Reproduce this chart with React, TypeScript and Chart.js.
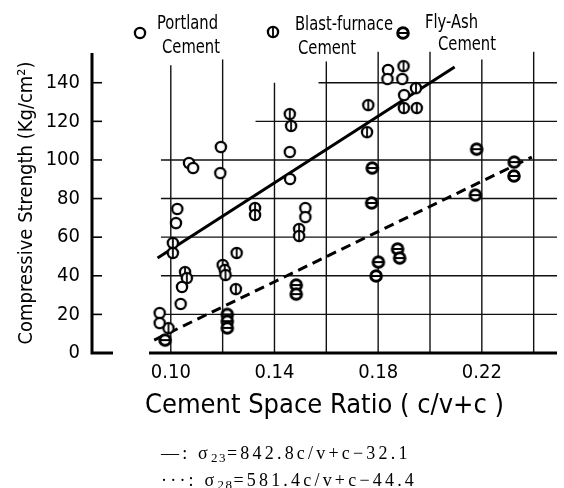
import React, { useEffect, useRef } from 'react';
import { Chart, registerables } from 'chart.js';

Chart.register(...registerables);

// ---------- data ----------
const seriesNames = ['Portland Cement', 'Blast-furnace Cement', 'Fly-Ash Cement'];

const portlandX = [0.1193, 0.1191, 0.1070, 0.1086, 0.1459, 0.1460, 0.1025, 0.1020, 0.1043, 0.1038, 0.0957, 0.0957, 0.1838, 0.1836, 0.1893, 0.1900, 0.1519, 0.1519];
const portlandY = [106.7, 93.2, 98.4, 95.8, 104.1, 90.1, 74.6, 67.3, 34.2, 25.4, 20.7, 15.5, 146.6, 141.9, 141.9, 133.6, 75.1, 70.4];

const blastX = [0.1459, 0.1464, 0.1898, 0.1946, 0.1762, 0.1899, 0.1949, 0.1757, 0.1325, 0.1325, 0.1495, 0.1495, 0.1008, 0.1008, 0.1055, 0.1062, 0.0991, 0.1254, 0.1251, 0.1200, 0.1208, 0.1211];
const blastY = [123.8, 117.6, 148.6, 137.2, 128.4, 126.9, 126.9, 114.4, 75.1, 71.5, 64.2, 60.6, 57.0, 51.8, 41.9, 38.8, 12.9, 51.8, 33.1, 45.6, 43.0, 40.4];

const flyX = [0.1218, 0.1218, 0.1218, 0.1484, 0.1484, 0.1777, 0.1775, 0.1801, 0.1792, 0.1875, 0.1883, 0.2180, 0.2175, 0.2325, 0.2324, 0.0978];
const flyY = [20.0, 16.5, 13.0, 35.2, 30.5, 95.8, 77.7, 47.1, 39.9, 53.9, 49.2, 105.6, 81.8, 98.9, 91.7, 6.7];

// regression lines as drawn (end points)
const solidX = [0.0949, 0.2095];
const solidY = [49.2, 148.1];
const dashX = [0.0936, 0.2393];
const dashY = [6.7, 101.5];

const xTickValues = [0.10, 0.12, 0.14, 0.16, 0.18, 0.20, 0.22, 0.24];
const xTickLabels = ['0.10', '', '0.14', '', '0.18', '', '0.22', ''];
const yTickValues = [0, 20, 40, 60, 80, 100, 120, 140];

const equations = [
  { mark: '\u2014:', sub: '23', rhs: '=842.8c/v+c\u221232.1' },
  { mark: '\u00b7\u00b7\u00b7:', sub: '28', rhs: '=581.4c/v+c\u221244.4' },
];

// ---------- styling ----------
const HAND = '"DejaVu Sans Condensed", "DejaVu Sans", sans-serif';

const gridStyle = {
  vTops: [149, 152, 140, 151, 156, 156, 152, 156],
  hStarts: [0.0962, 0.0962, 0.0962, 0.0962, 0.0962, 0.1327, 0.157],
  xAxisStart: 0.0916,
};

function makeMarker(kind: number): HTMLCanvasElement {
  const c = document.createElement('canvas');
  c.width = 16;
  c.height = 16;
  const g = c.getContext('2d')!;
  g.strokeStyle = '#000';
  g.fillStyle = '#fff';
  const r = kind === 2 ? 5.3 : 5.1;
  g.lineWidth = kind === 2 ? 3 : 2.3;
  g.beginPath();
  g.arc(8, 8, r, 0, Math.PI * 2);
  g.fill();
  g.stroke();
  if (kind === 1) {
    g.lineWidth = 1.8;
    g.beginPath();
    g.moveTo(8, 8 - r);
    g.lineTo(8, 8 + r);
    g.stroke();
  } else if (kind === 2) {
    g.lineWidth = 2;
    g.beginPath();
    g.moveTo(8 - r, 8);
    g.lineTo(8 + r, 8);
    g.stroke();
  }
  return c;
}

const toPts = (xs: number[], ys: number[]) => xs.map((x, i) => ({ x, y: ys[i] }));

export default function App() {
  const ref = useRef<HTMLCanvasElement | null>(null);

  useEffect(() => {
    if (!ref.current) return;
    const markers = [makeMarker(0), makeMarker(1), makeMarker(2)];

    const gridPlugin = {
      id: 'handGrid',
      beforeDatasetsDraw(chart: any) {
        const { ctx, scales } = chart;
        const x = scales.x;
        const y = scales.y;
        const y0 = y.getPixelForValue(0);
        ctx.save();
        ctx.strokeStyle = '#111';
        ctx.lineWidth = 1.4;
        xTickValues.forEach((v, i) => {
          const px = x.getPixelForValue(v);
          ctx.beginPath();
          ctx.moveTo(px, y.getPixelForValue(gridStyle.vTops[i]));
          ctx.lineTo(px, y0);
          ctx.stroke();
        });
        yTickValues.slice(1).forEach((v, i) => {
          const py = y.getPixelForValue(v);
          ctx.beginPath();
          ctx.moveTo(x.getPixelForValue(gridStyle.hStarts[i]), py);
          ctx.lineTo(x.right, py);
          ctx.stroke();
        });
        // inward y ticks
        ctx.strokeStyle = '#000';
        ctx.lineWidth = 1.6;
        yTickValues.slice(1).forEach((v) => {
          const py = y.getPixelForValue(v);
          ctx.beginPath();
          ctx.moveTo(x.left, py);
          ctx.lineTo(x.left + 10, py);
          ctx.stroke();
        });
        // axes
        ctx.lineWidth = 3;
        ctx.beginPath();
        ctx.moveTo(x.left, y.top);
        ctx.lineTo(x.left, y0 + 1.5);
        ctx.moveTo(x.left - 1.5, y0);
        ctx.lineTo(x.left + 21, y0);
        ctx.stroke();
        ctx.beginPath();
        ctx.moveTo(x.getPixelForValue(gridStyle.xAxisStart), y0);
        ctx.lineTo(x.right, y0);
        ctx.stroke();
        ctx.restore();
      },
    };

    const legendPos = [
      { mx: 140, my: 33, lines: [[157, 29], [162, 53]] },
      { mx: 273, my: 32, lines: [[295, 30], [298, 54]] },
      { mx: 403, my: 33, lines: [[425, 28], [438, 50]] },
    ];

    const legendPlugin = {
      id: 'handLegend',
      afterDraw(chart: any) {
        const { ctx } = chart;
        ctx.save();
        ctx.fillStyle = '#000';
        ctx.font = `20px ${HAND}`;
        ctx.textAlign = 'left';
        ctx.textBaseline = 'alphabetic';
        seriesNames.forEach((name, i) => {
          const p = legendPos[i];
          ctx.drawImage(markers[i], p.mx - 8, p.my - 8);
          const parts = name.split(' ');
          parts.forEach((t, k) => {
            ctx.save();
            ctx.translate(p.lines[k][0], p.lines[k][1]);
            ctx.scale(0.82, 1);
            ctx.fillText(t, 0, 0);
            ctx.restore();
          });
        });
        ctx.restore();
      },
    };

    const chart = new Chart(ref.current, {
      type: 'scatter',
      data: {
        datasets: [
          {
            label: seriesNames[0],
            data: toPts(portlandX, portlandY),
            pointStyle: markers[0] as any,
            pointRadius: 6,
          },
          {
            label: seriesNames[1],
            data: toPts(blastX, blastY),
            pointStyle: markers[1] as any,
            pointRadius: 6,
          },
          {
            label: seriesNames[2],
            data: toPts(flyX, flyY),
            pointStyle: markers[2] as any,
            pointRadius: 6,
          },
          {
            label: 'solid',
            data: toPts(solidX, solidY),
            showLine: true,
            borderColor: '#000',
            borderWidth: 3,
            pointRadius: 0,
            order: 5,
          } as any,
          {
            label: 'dashed',
            data: toPts(dashX, dashY),
            showLine: true,
            borderColor: '#000',
            borderWidth: 3,
            borderDash: [10, 6],
            pointRadius: 0,
            order: 5,
          } as any,
        ],
      },
      options: {
        responsive: false,
        animation: false,
        devicePixelRatio: 1,
        layout: { padding: { top: 53, right: 0, left: 0, bottom: 0 } },
        plugins: {
          legend: { display: false },
          tooltip: { enabled: false },
        },
        scales: {
          x: {
            type: 'linear',
            min: 0.0696,
            max: 0.249,
            afterBuildTicks: (s: any) => {
              s.ticks = xTickValues.map((value) => ({ value }));
            },
            afterFit: (s: any) => {
              s.height = 135;
            },
            grid: { display: false, drawTicks: false },
            border: { display: false },
            ticks: {
              autoSkip: false,
              maxRotation: 0,
              padding: 8,
              color: '#000',
              font: { family: HAND, size: 20 },
              callback: (_v: any, i: number) => xTickLabels[i],
            },
            title: {
              display: true,
              text: 'Cement Space Ratio ( c/v+c )',
              color: '#000',
              font: { family: HAND, size: 27 },
              padding: { top: 0, bottom: 66 },
            },
          },
          y: {
            type: 'linear',
            min: 0,
            max: 155.4,
            afterBuildTicks: (s: any) => {
              s.ticks = yTickValues.map((value) => ({ value }));
            },
            afterFit: (s: any) => {
              s.width = 92;
            },
            grid: { display: false, drawTicks: false },
            border: { display: false },
            ticks: {
              padding: 12,
              color: '#000',
              font: { family: HAND, size: 20 },
            },
            title: {
              display: true,
              text: 'Compressive Strength (Kg/cm\u00b2)',
              color: '#000',
              font: { family: HAND, size: 20 },
              padding: { top: 15, bottom: 0 },
            },
          },
        },
      },
      plugins: [gridPlugin, legendPlugin],
    });

    return () => chart.destroy();
  }, []);

  return (
    <div style={{ position: 'fixed', left: 0, top: 0, width: 564, height: 488, background: '#fff', overflow: 'hidden' }}>
      <canvas ref={ref} width={564} height={488} style={{ display: 'block', width: 564, height: 488 }} />
      <div
        style={{
          position: 'absolute',
          left: 161,
          top: 440,
          font: '18px "Liberation Serif", "DejaVu Serif", serif',
          letterSpacing: '3.2px',
          lineHeight: '27px',
          whiteSpace: 'nowrap',
          color: '#000',
        }}
      >
        {equations.map((e, i) => (
          <div key={i} style={{ height: 27 }}>
            {e.mark} σ<sub style={{ fontSize: 13, verticalAlign: -3, lineHeight: 0, letterSpacing: '1.5px' }}>{e.sub}</sub>
            {e.rhs}
          </div>
        ))}
      </div>
    </div>
  );
}
